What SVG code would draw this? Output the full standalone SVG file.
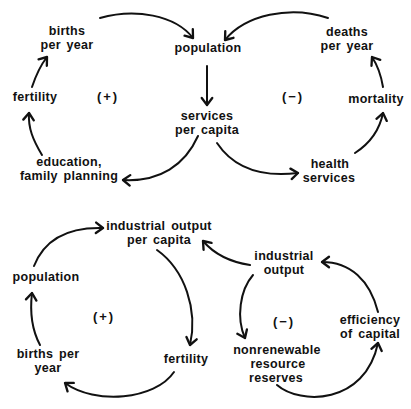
<svg xmlns="http://www.w3.org/2000/svg" width="411" height="409" viewBox="0 0 411 409">
<defs>
<marker id="ah" markerUnits="userSpaceOnUse" markerWidth="14" markerHeight="14" viewBox="-8 -6 10 12" refX="0" refY="0" orient="auto">
<path d="M-6,-4.5 L0,0 L-6,4.5" fill="none" stroke="#111" stroke-width="2" stroke-linecap="round" stroke-linejoin="round"/>
</marker>
</defs>
<style>
text{font-family:"Liberation Sans",Arial,sans-serif;font-weight:bold;font-size:12.5px;letter-spacing:0.3px;fill:#111;text-anchor:middle;word-spacing:2px}
text.s{font-size:13px;letter-spacing:2px}
.c path{fill:none;stroke:#111;stroke-width:2;stroke-linecap:round;marker-end:url(#ah)}
</style>
<rect width="411" height="409" fill="#fff"/>
<g id="births1"><text x="67" y="35">births</text><text x="67" y="49">per year</text></g>
<g id="population1"><text x="208" y="52">population</text></g>
<g id="fertility1"><text x="35" y="101">fertility</text></g>
<g id="plus1"><text class="s" x="108" y="101">(+)</text></g>
<g id="education"><text x="69" y="166">education,</text><text x="69" y="180">family planning</text></g>
<g id="services"><text x="207" y="120">services</text><text x="207" y="134">per capita</text></g>
<g id="deaths"><text x="347" y="36">deaths</text><text x="347" y="50">per year</text></g>
<g id="minus1"><text class="s" x="293" y="101">(−)</text></g>
<g id="mortality"><text x="376" y="103">mortality</text></g>
<g id="health"><text x="330" y="168">health</text><text x="329" y="182">services</text></g>
<g id="iopc"><text x="159" y="230">industrial output</text><text x="159" y="244">per capita</text></g>
<g id="population2"><text x="46" y="281">population</text></g>
<g id="plus2"><text class="s" x="104" y="321">(+)</text></g>
<g id="births2"><text x="48" y="358">births per</text><text x="48" y="372">year</text></g>
<g id="fertility2"><text x="186" y="363">fertility</text></g>
<g id="io"><text x="284" y="260">industrial</text><text x="284" y="274">output</text></g>
<g id="minus2"><text class="s" x="284" y="326">(−)</text></g>
<g id="reserves"><text x="277" y="354">nonrenewable</text><text x="278" y="368">resource</text><text x="276" y="382">reserves</text></g>
<g id="efficiency"><text x="370" y="324">efficiency</text><text x="370" y="338">of capital</text></g>
<g id="connectors" class="c">
<path d="M100,18 C135,8 175,15 193,38"/>
<path d="M207,66 L207,105"/>
<path d="M198,136 C185,165 160,182 123,180"/>
<path d="M42,155 C33,140 28,128 29,113"/>
<path d="M32,87 C36,75 40,66 47,57"/>
<path d="M328,18 C290,5 245,15 225,40"/>
<path d="M383,87 C381,75 378,66 372,57"/>
<path d="M355,153 C372,142 380,128 383,113"/>
<path d="M217,143 C235,170 265,177 298,173"/>
<path d="M34,266 C45,238 70,227 103,228"/>
<path d="M40,345 C32,330 30,310 32,293"/>
<path d="M157,250 C185,270 198,310 190,345"/>
<path d="M174,372 C155,400 95,405 65,383"/>
<path d="M250,265 C230,262 215,255 203,241"/>
<path d="M253,275 C240,290 236,318 245,338"/>
<path d="M277,385 C300,405 365,405 378,343"/>
<path d="M378,312 C370,280 350,262 322,262"/>
</g>
</svg>
